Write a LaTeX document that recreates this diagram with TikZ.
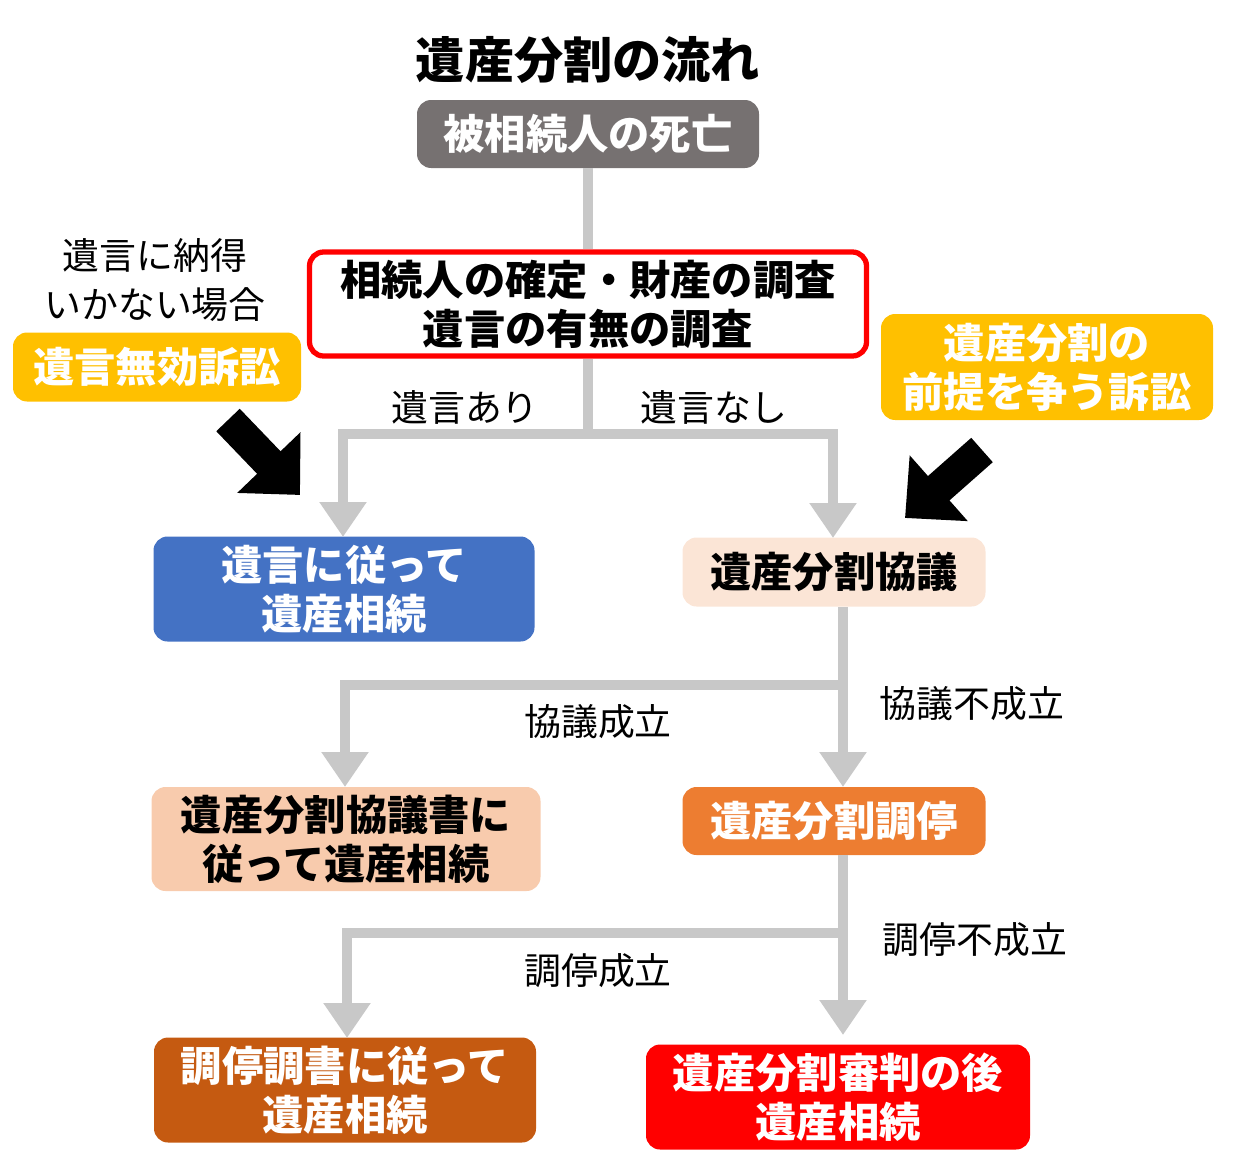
\documentclass[tikz,border=0pt]{standalone}
\usepackage{fontspec}
\setmainfont{Noto Sans CJK JP}
\usetikzlibrary{arrows.meta}
\definecolor{lgray}{HTML}{C8C8C8}
\tikzset{
 box/.style={rounded corners=8pt,inner sep=0pt,align=center,font=\fontsize{23.5}{28}\selectfont\bfseries,text=white},
 conn/.style={draw=lgray,line width=0.2cm},
 arr/.style={conn,-{Triangle[length=0.7cm,width=0.9cm]}},
 lbl/.style={font=\fontsize{21}{28}\selectfont},
 bigarr/.style={line width=0.65cm,-{Triangle[length=0.9cm,width=1.7cm]}}
}
\begin{document}
\begin{tikzpicture}[x=0.02cm,y=-0.02cm]
\useasboundingbox (0,0) rectangle (1243,1173);
\node[font=\fontsize{28}{32}\selectfont\bfseries] (title) at (588,60) {遺産分割の流れ};
\node[box,fill={rgb,255:red,118;green,113;blue,113},minimum width=342*0.02cm,minimum height=68*0.02cm] (death) at (588,134) {被相続人の死亡};
\node[box,draw=red,line width=3pt,fill=white,text=black,minimum width=557*0.02cm,minimum height=104*0.02cm] (inv) at (588,304) {相続人の確定・財産の調査\\遺言の有無の調査};
\node[lbl,align=center] (nok) at (155,280) {遺言に納得\\いかない場合};
\node[box,fill={rgb,255:red,255;green,192;blue,0},minimum width=288*0.02cm,minimum height=69*0.02cm] (inval) at (157,367) {遺言無効訴訟};
\node[box,fill={rgb,255:red,255;green,192;blue,0},minimum width=332*0.02cm,minimum height=106*0.02cm] (prem) at (1047,367) {遺産分割の\\前提を争う訴訟};
\node[box,fill={rgb,255:red,68;green,114;blue,196},minimum width=381*0.02cm,minimum height=105*0.02cm] (will) at (344,589) {遺言に従って\\遺産相続};
\node[box,fill={rgb,255:red,251;green,229;blue,214},text=black,minimum width=303*0.02cm,minimum height=69*0.02cm] (kyo) at (834,572) {遺産分割協議};
\node[box,fill={rgb,255:red,248;green,203;blue,173},text=black,minimum width=389*0.02cm,minimum height=104*0.02cm] (kyosho) at (346,839) {遺産分割協議書に\\従って遺産相続};
\node[box,fill={rgb,255:red,237;green,125;blue,49},minimum width=303*0.02cm,minimum height=68*0.02cm] (cho) at (834,821) {遺産分割調停};
\node[box,fill={rgb,255:red,197;green,90;blue,17},minimum width=382*0.02cm,minimum height=105*0.02cm] (chosho) at (345,1090) {調停調書に従って\\遺産相続};
\node[box,fill=red,minimum width=384*0.02cm,minimum height=105*0.02cm] (shin) at (838,1097) {遺産分割審判の後\\遺産相続};
\node[lbl] (l1) at (465,407) {遺言あり};
\node[lbl] (l2) at (714,407) {遺言なし};
\node[lbl] (l3) at (598,722) {協議成立};
\node[lbl] (l4) at (972,704) {協議不成立};
\node[lbl] (l5) at (598,971) {調停成立};
\node[lbl] (l6) at (975,940) {調停不成立};
\coordinate (j1) at (588,434);
\coordinate (j2) at (843,685);
\coordinate (j3) at (843,933);
\draw[conn] (death.south) -- (inv.north);
\draw[conn] (inv.south) -- (j1);
\draw[arr] (j1) -- (343,434) -- (343,537);
\draw[arr] (j1) -- (833,434) -- (833,538);
\draw[conn] (843,607) -- (j2);
\draw[arr] (j2) -- (345,685) -- (345,787);
\draw[arr] (j2) -- (843,787);
\draw[conn] (843,855) -- (j3);
\draw[arr] (j3) -- (347,933) -- (347,1038);
\draw[arr] (j3) -- (843,1035);
\coordinate (b1) at (228,420);
\coordinate (b1t) at (300,495);
\coordinate (b2) at (982,450);
\coordinate (b2t) at (905,518);
\draw[bigarr] (b1) -- (b1t);
\draw[bigarr] (b2) -- (b2t);
\end{tikzpicture}
\end{document}
